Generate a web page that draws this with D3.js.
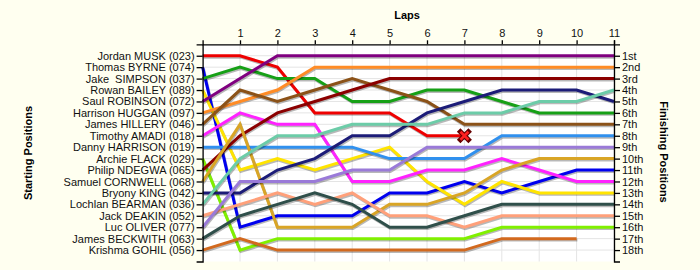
<!DOCTYPE html>
<html>
<head>
<meta charset="utf-8">
<script src="https://cdn.jsdelivr.net/npm/d3@7"></script>
<style>
  body { margin: 0; background: #fffff0; }
  text { font-family: "Liberation Sans", Arial, sans-serif; }
</style>
</head>
<body>
<script>
// starting grid, in order of start position
var drivers = [
    "Jordan MUSK (023)", "Thomas BYRNE (074)", "Jake  SIMPSON (037)", "Rowan BAILEY (089)",
    "Saul ROBINSON (072)", "Harrison HUGGAN (097)", "James HILLERY (046)", "Timothy AMADI (018)",
    "Danny HARRISON (019)", "Archie FLACK (029)", "Philip NDEGWA (065)", "Samuel CORNWELL (068)",
    "Bryony KING (042)", "Lochlan BEARMAN (036)", "Jack DEAKIN (052)", "Luc OLIVER (077)",
    "James BECKWITH (063)", "Krishma GOHIL (056)"
];
var colours = [
    "#ee0000", "#0000ee", "#16a016", "#ffe400", "#800080", "#ff8c26", "#8b5218", "#ff22ff",
    "#3090ee", "#80f000", "#8b0000", "#d9a526", "#1c1c78", "#6ccca8", "#ffa07a", "#9a7ad8",
    "#2f4f4a", "#d2691e"
];
// position at each lap, lap 0 = start
var positions = [
    [1, 1, 2, 6, 6, 6, 8, 8],
    [2, 16, 15, 15, 15, 13, 13, 12, 13, 12, 11, 11],
    [3, 2, 3, 3, 5, 5, 4, 4, 5, 6, 6, 6],
    [4, 11, 10, 11, 10, 9, 12, 14, 12, 13, 13, 13],
    [5, 3, 1, 1, 1, 1, 1, 1, 1, 1, 1, 1],
    [6, 5, 4, 2, 2, 2, 2, 2, 2, 2, 2, 2],
    [7, 4, 5, 4, 3, 4, 5, 7, 7, 7, 7, 7],
    [8, 6, 7, 7, 12, 12, 11, 11, 10, 11, 12, 12],
    [9, 9, 9, 9, 9, 10, 10, 10, 8, 8, 8, 8],
    [10, 18, 17, 17, 17, 17, 17, 17, 16, 16, 16, 16],
    [11, 8, 6, 5, 4, 3, 3, 3, 3, 3, 3, 3],
    [12, 7, 16, 16, 16, 14, 14, 13, 11, 10, 10, 10],
    [13, 13, 11, 10, 8, 8, 6, 5, 4, 4, 4, 5],
    [14, 10, 8, 8, 7, 7, 7, 6, 6, 5, 5, 4],
    [15, 14, 13, 14, 13, 15, 15, 16, 15, 15, 15, 15],
    [16, 12, 12, 12, 11, 11, 9, 9, 9, 9, 9, 9],
    [17, 15, 14, 13, 14, 16, 16, 15, 14, 14, 14, 14],
    [18, 17, 18, 18, 18, 18, 18, 18, 17, 17, 17]
];
var retired = [0];   // index of drivers who did not finish
var laps = d3.range(1, 12);
var places = ["1st", "2nd", "3rd", "4th", "5th", "6th", "7th", "8th", "9th", "10th",
    "11th", "12th", "13th", "14th", "15th", "16th", "17th", "18th"];

var svg = d3.select("body")
    .append("svg")
    .attr("width", 700)
    .attr("height", 270);

var x = d3.scaleLinear().domain([0, 11]).range([202.6, 614]);
var y = d3.scaleLinear().domain([0, 19]).range([44.3, 261.5]);

// plot area
svg.append("rect")
    .attr("x", x(0)).attr("y", y(0))
    .attr("width", x(11) - x(0)).attr("height", y(19) - y(0))
    .style("fill", "#ffffff");

svg.append("g").selectAll("line")
    .data(laps)
    .enter().append("line")
    .attr("x1", d => x(d)).attr("x2", d => x(d))
    .attr("y1", y(0)).attr("y2", y(19))
    .style("stroke", "#e4e4e4");
svg.append("g").selectAll("line")
    .data(d3.range(1, 19))
    .enter().append("line")
    .attr("x1", x(0)).attr("x2", x(11))
    .attr("y1", d => y(d)).attr("y2", d => y(d))
    .style("stroke", "#e4e4e4");

// driver lines
var line = d3.line()
    .x((d, i) => x(i))
    .y(d => y(d));

var traces = svg.append("g");
positions.forEach(function(p, i) {
    traces.append("path")
        .attr("d", line(p))
        .attr("transform", "translate(0.8,1.4)")
        .style("fill", "none")
        .style("stroke", "#000")
        .style("stroke-opacity", 0.28)
        .style("stroke-width", 3);
    traces.append("path")
        .attr("d", line(p))
        .style("fill", "none")
        .style("stroke", colours[i])
        .style("stroke-width", 3);
});

// retirement marker
retired.forEach(function(i) {
    var p = positions[i];
    var cx = x(p.length - 1), cy = y(p[p.length - 1]);
    var cross = svg.append("g").attr("transform", "translate(" + cx + "," + cy + ")");
    cross.append("path")
        .attr("d", "M-4,-4L4,4M-4,4L4,-4")
        .style("stroke", "#600")
        .style("stroke-width", 5)
        .style("stroke-linecap", "square");
    cross.append("path")
        .attr("d", "M-4,-4L4,4M-4,4L4,-4")
        .style("stroke", "#ff2020")
        .style("stroke-width", 2.6);
});

// axes
var top = svg.append("g")
    .attr("transform", "translate(0," + y(0) + ")")
    .call(d3.axisTop(x).tickValues(laps).tickSizeInner(4).tickSizeOuter(4).tickPadding(3));
var left = svg.append("g")
    .attr("transform", "translate(" + x(0) + ",0)")
    .call(d3.axisLeft(y).tickValues(d3.range(1, 19)).tickFormat(d => drivers[d - 1])
        .tickSizeInner(6).tickSizeOuter(6).tickPadding(2));
var right = svg.append("g")
    .attr("transform", "translate(" + x(11) + ",0)")
    .call(d3.axisRight(y).tickValues(d3.range(1, 19)).tickFormat(d => places[d - 1])
        .tickSizeInner(6).tickSizeOuter(6).tickPadding(2));

svg.selectAll(".domain, .tick line").style("stroke", "#000").style("stroke-width", 1.3);
svg.selectAll(".tick text")
    .style("font-family", "'Liberation Sans', Arial, sans-serif")
    .style("font-size", "11px")
    .style("fill", "#111")
    .style("white-space", "pre");

svg.append("text")
    .attr("x", 407).attr("y", 19)
    .attr("text-anchor", "middle")
    .style("font-size", "11px").style("font-weight", "bold")
    .text("Laps");
svg.append("text")
    .attr("transform", "translate(32,153) rotate(-90)")
    .attr("text-anchor", "middle")
    .style("font-size", "11px").style("font-weight", "bold")
    .text("Starting Positions");
svg.append("text")
    .attr("transform", "translate(660,152) rotate(90)")
    .attr("text-anchor", "middle")
    .style("font-size", "11px").style("font-weight", "bold")
    .text("Finishing Positions");
</script>
</body>
</html>
